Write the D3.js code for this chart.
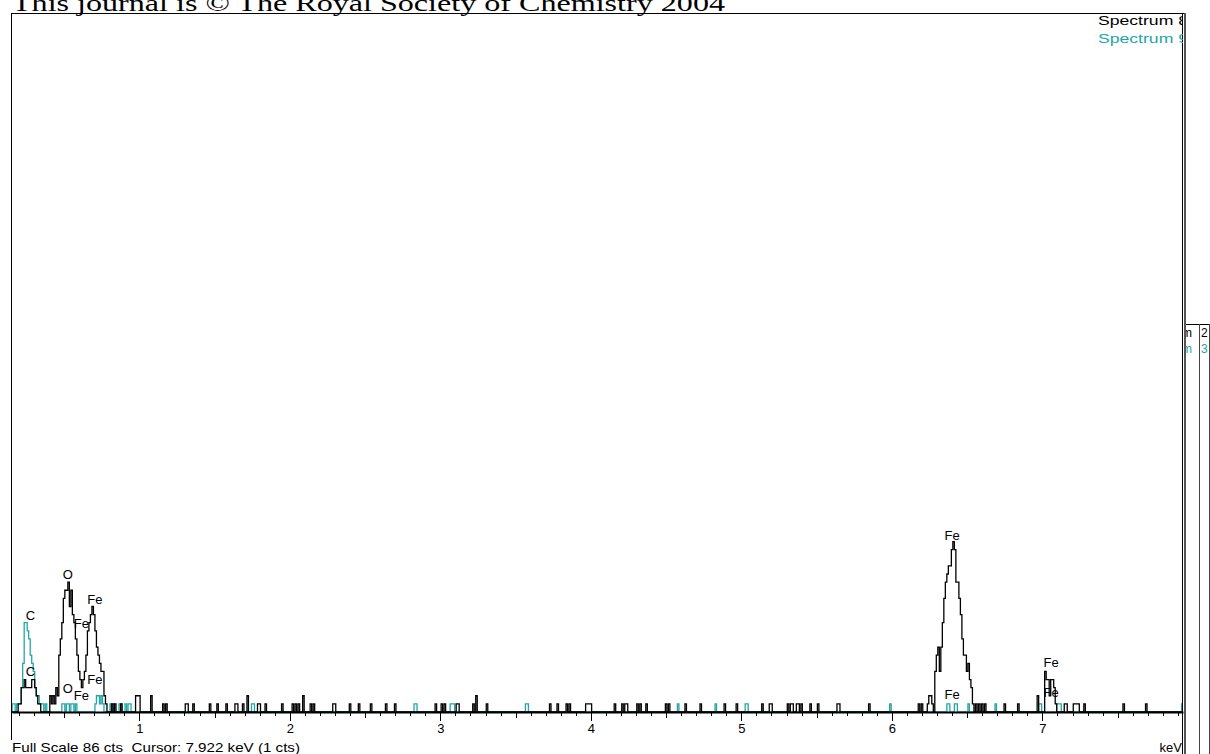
<!DOCTYPE html>
<html><head><meta charset="utf-8">
<script src="https://cdn.jsdelivr.net/npm/d3@7"></script>
<style>body{margin:0;background:#fff;} svg{display:block;}</style>
</head><body>
<svg id="c" width="1210" height="754"></svg>
<script>
// ---------- data ----------
const channelWidth = 0.01;            // keV per channel
const energyMin = 0.16, energyMax = 7.93;
const xDomain = [0.154, 7.934];       // visible keV range
const fullScale = 86;                 // cts
const majorTicks = [1, 2, 3, 4, 5, 6, 7];
const cursorText = "Full Scale 86 cts  Cursor: 7.922 keV (1 cts)";
const seriesNames = ["Spectrum 8", "Spectrum 9"];

// Spectrum 8 (black): peak regions (start keV + consecutive channel counts)
const spec8PeakStart = [0.20, 0.41, 6.24, 7.02];
const spec8PeakCounts = [
  [1,1,3,3,4,3,3,3,3,4,4,3,2,1,1],
  [2,1,2,1,3,2,7,9,11,14,15,15,16,13,15,12,11,9,7,5,4,3,4,5,7,10,11,12,13,12,10,8,7,6,5,5,2,1],
  [1,2,2,1,0,5,7,8,5,8,11,14,16,17,18,18,20,21,20,16,16,14,12,9,7,7,5,6,4,3,1],
  [5,4,4,2,4,4,3,1]
];
const spec8Singles = [0.82,0.84,0.88,1.16,1.18,1.31,1.32,1.36,1.47,1.52,1.58,1.64,1.65,1.69,1.79,1.80,1.84,1.95,
  2.02,2.04,2.06,2.14,2.16,2.29,2.30,2.40,2.46,2.54,2.64,2.70,2.97,3.01,3.03,3.11,3.12,3.22,3.31,3.73,3.78,3.84,3.86,
  3.97,3.98,3.99,4.00,4.16,4.21,4.23,4.24,4.31,4.33,4.37,4.50,4.52,4.63,4.73,4.89,4.97,5.14,5.19,5.20,5.31,5.33,5.34,
  5.37,5.38,5.40,5.46,5.51,5.64,5.65,5.85,6.18,6.20,6.56,6.58,6.60,6.62,6.75,6.84,7.15,7.16,7.21,7.22,7.23,7.24,7.28,7.54,7.69];
const spec8Doubles = [0.98,0.99,1.00,1.08,1.72,2.09,3.24,6.97];

// Spectrum 9 (cyan)
const spec9PeakStart = [0.20, 0.71];
const spec9PeakCounts = [
  [1,1,3,6,11,11,10,9,7,6,5,3,2,2,1,1],
  [1,2,2,1,2,1]
];
const spec9Singles = [0.16,0.17,0.19,0.36,0.38,0.49,0.50,0.52,0.53,0.55,0.56,0.58,0.81,0.83,0.87,0.88,0.91,0.93,0.94,
  1.75,1.76,2.83,2.84,3.07,3.08,3.09,3.57,3.58,4.58,4.83,5.03,5.04,5.99,6.37,6.38,6.42,6.43,6.51,6.69,6.98,6.99,
  7.10,7.11,7.12,7.93];
const spec9Doubles = [];

// element line markers
const labelText   = ["C", "O", "Fe", "Fe", "Fe", "Fe"];
const labelEnergy = [0.277, 0.525, 0.615, 0.705, 6.400, 7.058];
const spec8LabelCts = [4.4, 16.35, 10.4, 13.3, 21.2, 5.5];
const spec9LabelCts = [11.3, 2.4, 1.45, 3.4, 1.55, 1.8];

// ---------- drawing ----------
const BLACK = "#000", CYAN = "#22a7a7";
const SANS = "Liberation Sans, Arial, sans-serif";
const svg = d3.select("#c");
const plotLeft = 12, plotRight = 1183, plotTop = 14, plotBottom = 712;
const x = d3.scaleLinear().domain(xDomain).range([plotLeft, plotRight]);
const y = d3.scaleLinear().domain([0, fullScale]).range([plotBottom, plotTop]);

function buildChannels(starts, peaks, singles, doubles) {
  const n = Math.round((energyMax - energyMin) / channelWidth) + 1;
  const counts = new Array(n).fill(0);
  const idx = e => Math.round((e - energyMin) / channelWidth);
  singles.forEach(e => { const i = idx(e); if (i >= 0 && i < n) counts[i] = 1; });
  doubles.forEach(e => { const i = idx(e); if (i >= 0 && i < n) counts[i] = 2; });
  starts.forEach((s, k) => peaks[k].forEach((c, j) => { const i = idx(s) + j; if (i >= 0 && i < n) counts[i] = c; }));
  const pts = counts.map((c, i) => ({ e: energyMin + i * channelWidth, c }));
  pts.unshift({ e: energyMin - channelWidth, c: 0 });
  pts.push({ e: energyMax + channelWidth, c: 0 });
  return pts;
}

const spec8 = buildChannels(spec8PeakStart, spec8PeakCounts, spec8Singles, spec8Doubles);
const spec9 = buildChannels(spec9PeakStart, spec9PeakCounts, spec9Singles, spec9Doubles);

const defs = svg.append("defs");
defs.append("clipPath").attr("id", "plotClip")
  .append("rect").attr("x", plotLeft).attr("y", plotTop)
  .attr("width", plotRight - plotLeft).attr("height", plotBottom - plotTop + 1);

const line = d3.line().x(d => x(d.e)).y(d => y(d.c)).curve(d3.curveStep);
const g = svg.append("g").attr("clip-path", "url(#plotClip)");
g.append("path").datum(spec9).attr("d", line).attr("fill", "none")
  .attr("stroke", CYAN).attr("stroke-width", 1.3).attr("stroke-linejoin", "miter");
g.append("path").datum(spec8).attr("d", line).attr("fill", "none")
  .attr("stroke", BLACK).attr("stroke-width", 1.3).attr("stroke-linejoin", "miter");

// axis: minor, half and major ticks
const minorTicks = d3.range(2, 80).map(v => v / 10).filter(v => v % 1 !== 0 && Math.abs(v * 10 % 10 - 5) > 1e-6);
const halfTicks = d3.range(0, 8).map(v => v + 0.5).filter(v => v > xDomain[0] && v < xDomain[1]);
const axisG = svg.append("g").attr("transform", `translate(0,${plotBottom})`);
axisG.append("g").call(d3.axisBottom(x).tickValues(minorTicks).tickSize(4).tickFormat(""))
  .call(a => a.select(".domain").remove());
axisG.append("g").call(d3.axisBottom(x).tickValues(halfTicks).tickSize(6).tickFormat(""))
  .call(a => a.select(".domain").remove());
const major = axisG.append("g").call(d3.axisBottom(x).tickValues(majorTicks).tickSize(9).tickSizeOuter(0).tickPadding(3).tickFormat(d3.format("d")));
major.select(".domain").attr("stroke", BLACK).attr("stroke-width", 2);
major.selectAll("text").attr("font-family", SANS).attr("font-size", 13).attr("fill", BLACK);
axisG.selectAll(".tick line").attr("stroke", BLACK).attr("shape-rendering", "crispEdges");

// peak labels
const labG = svg.append("g").attr("font-family", SANS).attr("font-size", 13).attr("fill", BLACK).attr("text-anchor", "middle");
[spec8LabelCts, spec9LabelCts].forEach(cts => {
  labelText.forEach((t, i) => {
    labG.append("text").attr("x", x(labelEnergy[i])).attr("y", y(cts[i])).text(t);
  });
});

// frame
const frame = svg.append("g").attr("fill", "none").attr("shape-rendering", "crispEdges");
frame.append("line").attr("x1", 11.5).attr("x2", 1186).attr("y1", 13.5).attr("y2", 13.5).attr("stroke", BLACK);
frame.append("line").attr("x1", 11.5).attr("x2", 11.5).attr("y1", 13).attr("y2", 740).attr("stroke", BLACK);
frame.append("line").attr("x1", 1182.5).attr("x2", 1182.5).attr("y1", 13).attr("y2", 754).attr("stroke", BLACK);
frame.append("line").attr("x1", 1185).attr("x2", 1185).attr("y1", 13).attr("y2", 754).attr("stroke", "#555").attr("stroke-width", 2);
frame.append("line").attr("x1", 1186).attr("x2", 1210).attr("y1", 324.5).attr("y2", 324.5).attr("stroke", BLACK);
frame.append("line").attr("x1", 1199.5).attr("x2", 1199.5).attr("y1", 324).attr("y2", 754).attr("stroke", "#444");
frame.append("line").attr("x1", 1209.5).attr("x2", 1209.5).attr("y1", 324).attr("y2", 754).attr("stroke", "#444");

// legend (clipped at frame edge)
defs.append("clipPath").attr("id", "legClip")
  .append("rect").attr("x", 1000).attr("y", 14).attr("width", 183).attr("height", 40);
const leg = svg.append("g").attr("clip-path", "url(#legClip)").attr("font-family", SANS).attr("font-size", 12);
leg.append("text").attr("x", 1098).attr("y", 25).attr("fill", BLACK).attr("textLength", 90).attr("lengthAdjust", "spacingAndGlyphs").text(seriesNames[0]);
leg.append("text").attr("x", 1098).attr("y", 43).attr("fill", CYAN).attr("textLength", 90).attr("lengthAdjust", "spacingAndGlyphs").text(seriesNames[1]);

// background window fragment
defs.append("clipPath").attr("id", "bgClip")
  .append("rect").attr("x", 1186).attr("y", 325).attr("width", 13).attr("height", 40);
const bg = svg.append("g").attr("font-family", SANS).attr("font-size", 12);
bg.append("g").attr("clip-path", "url(#bgClip)").append("text").attr("x", 1192).attr("y", 337).attr("text-anchor", "end").attr("fill", BLACK).text("um");
bg.append("g").attr("clip-path", "url(#bgClip)").append("text").attr("x", 1192).attr("y", 353).attr("text-anchor", "end").attr("fill", CYAN).text("um");
bg.append("text").attr("x", 1201).attr("y", 337).attr("fill", BLACK).text("2");
bg.append("text").attr("x", 1201).attr("y", 353).attr("fill", CYAN).text("3");

// status texts
svg.append("text").attr("x", 12).attr("y", 752).attr("font-family", SANS).attr("font-size", 13).attr("fill", BLACK)
  .style("white-space", "pre").attr("textLength", 288).attr("lengthAdjust", "spacingAndGlyphs").text(cursorText);
svg.append("text").attr("x", 1182).attr("y", 752).attr("font-family", SANS).attr("font-size", 13).attr("fill", BLACK)
  .attr("text-anchor", "end").text("keV");

// page header
svg.append("text").attr("x", 12).attr("y", 11).attr("font-family", "Liberation Serif, 'Times New Roman', serif")
  .attr("font-size", 24).attr("fill", BLACK).attr("textLength", 713).attr("lengthAdjust", "spacingAndGlyphs")
  .text("This journal is © The Royal Society of Chemistry 2004");
</script>
</body></html>
